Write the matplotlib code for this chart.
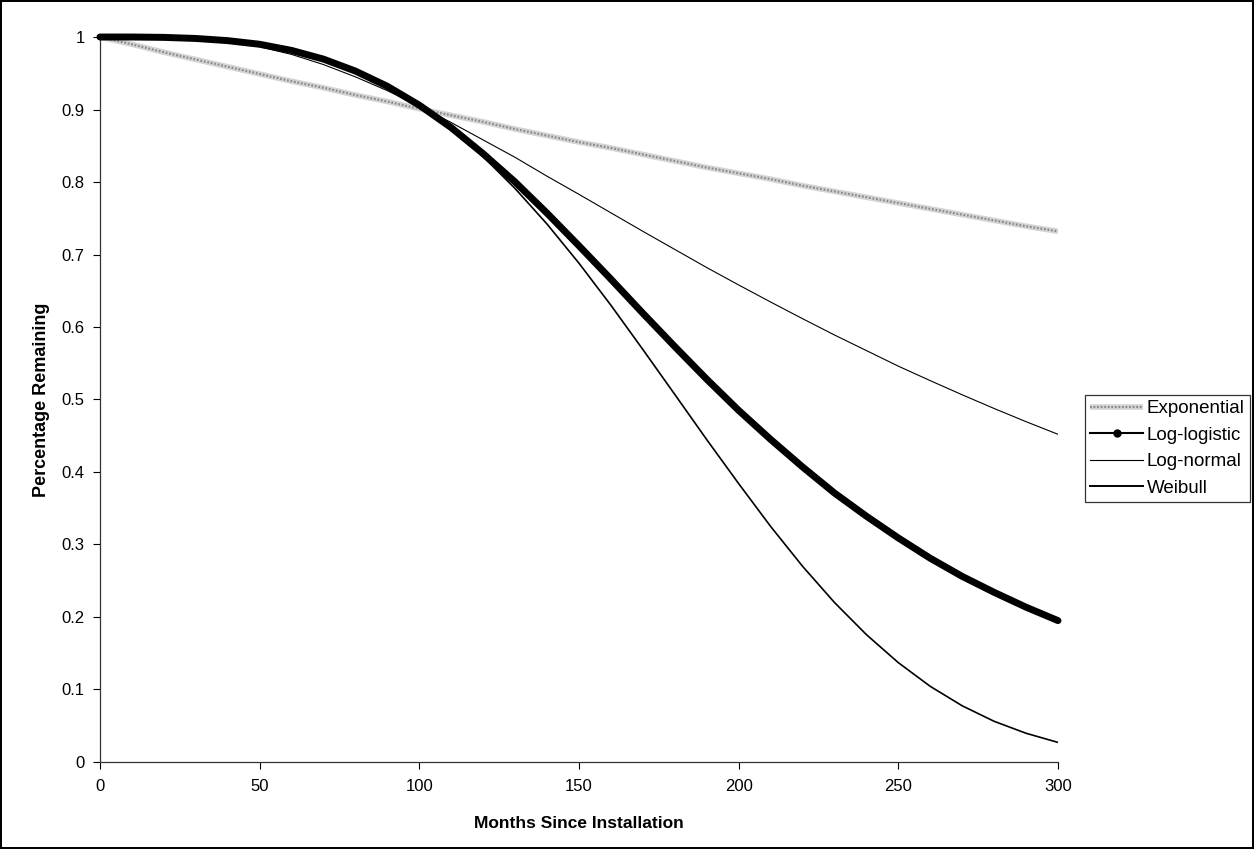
import matplotlib
matplotlib.use("Agg")
import matplotlib.pyplot as plt
from matplotlib.lines import Line2D

plt.rcParams["font.family"] = ["Liberation Sans", "DejaVu Sans"]

# ---- values (every 10 months) -----------------------------------------------
months = [0, 10, 20, 30, 40, 50, 60, 70, 80, 90, 100, 110, 120, 130, 140, 150,
          160, 170, 180, 190, 200, 210, 220, 230, 240, 250, 260, 270, 280, 290, 300]
exponential = [1.000, 0.990, 0.979, 0.969, 0.959, 0.949, 0.939, 0.930, 0.920,
               0.911, 0.901, 0.892, 0.883, 0.873, 0.864, 0.855, 0.847, 0.838,
               0.829, 0.820, 0.812, 0.804, 0.795, 0.787, 0.779, 0.771, 0.763,
               0.755, 0.747, 0.739, 0.732]
log_logistic = [1.000, 1.000, 0.9995, 0.998, 0.995, 0.990, 0.9815, 0.9695, 0.953,
                0.932, 0.906, 0.875, 0.839, 0.800, 0.757, 0.712, 0.666, 0.619,
                0.573, 0.528, 0.485, 0.445, 0.407, 0.371, 0.339, 0.309, 0.281,
                0.256, 0.234, 0.2135, 0.195]
log_normal = [1.000, 1.000, 0.9997, 0.998, 0.994, 0.9866, 0.976, 0.962, 0.945,
              0.926, 0.905, 0.882, 0.858, 0.834, 0.808, 0.783, 0.7575, 0.732,
              0.707, 0.682, 0.658, 0.6345, 0.6115, 0.589, 0.5675, 0.546, 0.526,
              0.5065, 0.4876, 0.4694, 0.452]
weibull = [1.000, 1.000, 0.9995, 0.998, 0.995, 0.990, 0.9815, 0.9695, 0.953,
           0.932, 0.905, 0.873, 0.835, 0.791, 0.742, 0.688, 0.630, 0.569,
           0.507, 0.4447, 0.384, 0.325, 0.270, 0.220, 0.1757, 0.137, 0.1043,
           0.0775, 0.0561, 0.0396, 0.027]

yticks = [0, 0.1, 0.2, 0.3, 0.4, 0.5, 0.6, 0.7, 0.8, 0.9, 1]
ytick_labels = ["0", "0.1", "0.2", "0.3", "0.4", "0.5", "0.6", "0.7", "0.8", "0.9", "1"]
xticks = [0, 50, 100, 150, 200, 250, 300]

fig = plt.figure(figsize=(12.54, 8.49), dpi=100)
fig.patch.set_edgecolor("black")
fig.patch.set_linewidth(1.5)
ax = fig.add_axes([0.0797, 0.1025, 0.7640, 0.8539])

# exponential: grey hatched band
exp_base, = ax.plot(months, exponential, color="#d4d4d4", lw=4.0,
                    solid_capstyle="butt", zorder=2)
exp_hatch, = ax.plot(months, exponential, color="#8a8a8a", lw=1.6,
                     dashes=(0.8, 0.8), zorder=2)
ax.plot(months, log_logistic, color="black", lw=5.0, solid_capstyle="round",
        solid_joinstyle="round", zorder=3, clip_on=False)
ax.plot(months, log_normal, color="black", lw=0.8, zorder=4)
ax.plot(months, weibull, color="black", lw=1.2, zorder=5)

ax.set_xlim(0, 300)
ax.set_ylim(0, 1)
ax.set_xticks(xticks)
ax.set_yticks(yticks)
ax.set_yticklabels(ytick_labels)
ax.tick_params(direction="out", length=5, width=0.8, labelsize=12,
               colors="black")
ax.tick_params(axis="x", pad=7)
ax.tick_params(axis="y", pad=6)
for s in ["top", "right"]:
    ax.spines[s].set_visible(False)
for s in ["left", "bottom"]:
    ax.spines[s].set_color("#333333")
    ax.spines[s].set_linewidth(0.9)

ax.set_xlabel("Months Since Installation", fontsize=12.5, fontweight="bold",
              labelpad=16)
ax.set_ylabel("Percentage Remaining", fontsize=13, fontweight="bold",
              labelpad=8)

handles = [(exp_base, exp_hatch),
           Line2D([], [], color="black", lw=1.5, marker="o", markersize=5),
           Line2D([], [], color="black", lw=0.8),
           Line2D([], [], color="black", lw=1.4)]
labels = ["Exponential", "Log-logistic", "Log-normal", "Weibull"]
leg = fig.legend(handles, labels, loc="center left",
                 bbox_to_anchor=(0.865, 0.4717), fontsize=13.5, frameon=True,
                 fancybox=False, edgecolor="black", handlelength=2.8,
                 handletextpad=0.2, borderpad=0.3, labelspacing=0.5,
                 borderaxespad=0)
leg.get_frame().set_linewidth(0.9)

fig.savefig("out.png", dpi=100)
